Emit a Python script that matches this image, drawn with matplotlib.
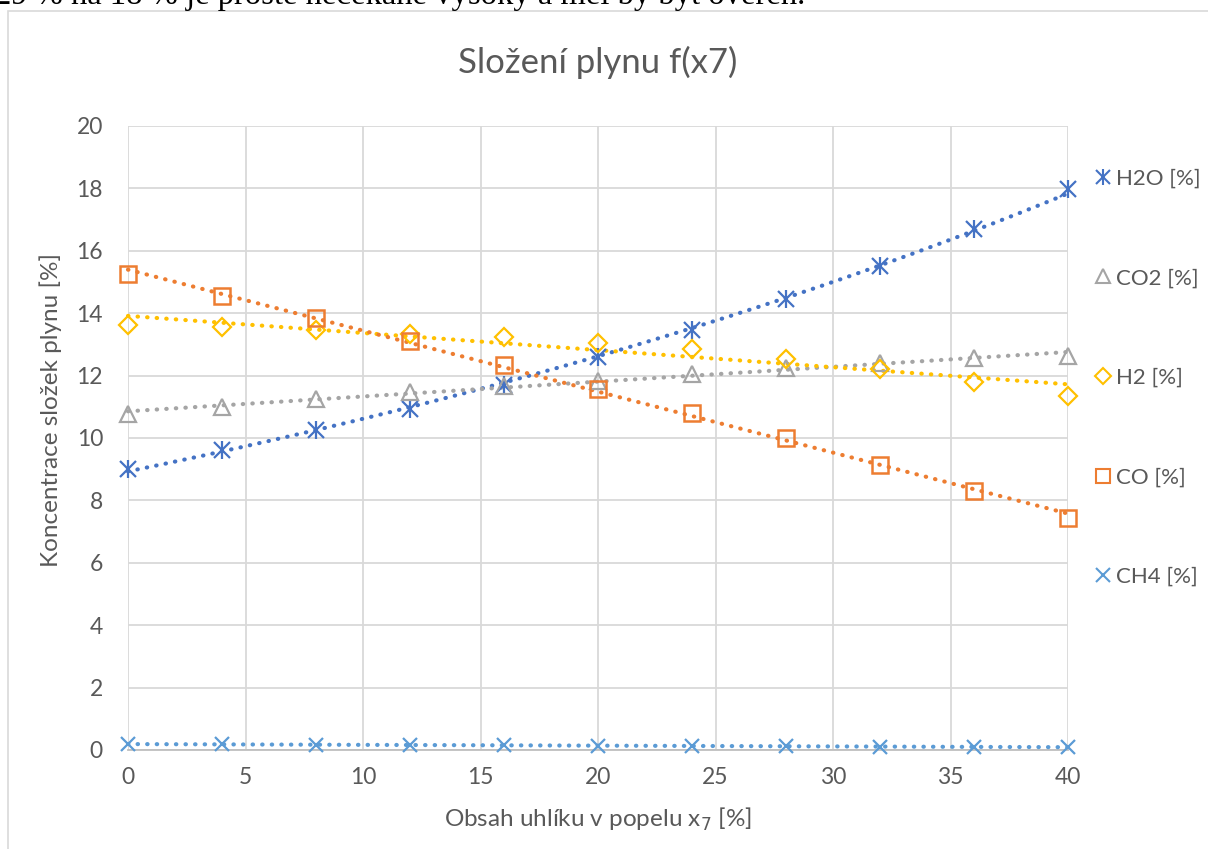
import numpy as np
import matplotlib
matplotlib.use('Agg')
import matplotlib.pyplot as plt
from matplotlib.patches import Rectangle
from matplotlib.lines import Line2D
from matplotlib.legend_handler import HandlerTuple

plt.rcParams['font.family'] = ['Lato', 'DejaVu Sans']

# Data
x7 = [0, 4, 8, 12, 16, 20, 24, 28, 32, 36, 40]
h2o = [9.0, 9.6, 10.26, 10.93, 11.7, 12.6, 13.46, 14.45, 15.5, 16.7, 17.98]
co2 = [10.77, 11.0, 11.25, 11.47, 11.67, 11.83, 12.05, 12.24, 12.4, 12.56, 12.63]
h2 = [13.62, 13.56, 13.46, 13.33, 13.24, 13.04, 12.85, 12.53, 12.21, 11.8, 11.35]
co = [15.26, 14.55, 13.85, 13.11, 12.34, 11.57, 10.8, 10.0, 9.13, 8.3, 7.44]
ch4 = [0.19, 0.18, 0.17, 0.16, 0.15, 0.14, 0.13, 0.12, 0.11, 0.1, 0.09]

labels = ['H2O [%]', 'CO2 [%]', 'H2 [%]', 'CO [%]', 'CH4 [%]']
colors = ['#4472C4', '#A5A5A5', '#FFC000', '#ED7D31', '#5B9BD5']
grey = '#595959'

fig = plt.figure(figsize=(12.08, 8.49), dpi=100)
ax = fig.add_axes([128/1208, 99/849, 940/1208, 624/849])

x = np.array(x7, dtype=float)
xs = np.linspace(0, 40, 200)

def trend(y, kind):
    y = np.array(y)
    if kind == 'exp':
        b, a = np.polyfit(x, np.log(y), 1)
        return np.exp(a + b * xs)
    k, q = np.polyfit(x, y, 1)
    return k * xs + q

# trendlines (dotted)
series = [h2o, co2, h2, co, ch4]
kinds = ['exp', 'lin', 'lin', 'lin', 'lin']
for y, c, kd in zip(series, colors, kinds):
    ax.plot(xs, trend(y, kd), linestyle=(0, (0.1, 2.2)), dash_capstyle='round',
            color=c, lw=3, zorder=3, clip_on=False)

# markers
kw = dict(linestyle='none', zorder=4, clip_on=False)
ax.plot(x, h2o, marker='x', ms=11, mew=1.6, color=colors[0], **kw)
ax.plot(x, h2o, marker='|', ms=13, mew=1.6, color=colors[0], **kw)
ax.plot(x, co2, marker='^', ms=11, mfc='none', mew=1.6, color=colors[1], **kw)
ax.plot(x, h2, marker='D', ms=9, mfc='none', mew=1.6, color=colors[2], **kw)
ax.plot(x, co, marker='s', ms=11, mfc='none', mew=1.8, color=colors[3], **kw)
ax.plot(x, ch4, marker='x', ms=10, mew=1.6, color=colors[4], **kw)

ax.set_xlim(0, 40)
ax.set_ylim(0, 20)
ax.set_xticks(range(0, 41, 5))
ax.set_yticks(range(0, 21, 2))
ax.grid(True, color='#d9d9d9', lw=1.3)
ax.set_axisbelow(True)
for s in ['top', 'right', 'left']:
    ax.spines[s].set_visible(False)
ax.spines['bottom'].set_color('#bfbfbf')
ax.spines['bottom'].set_linewidth(1.3)
ax.tick_params(length=0, labelsize=16.5, labelcolor=grey, pad=12)
ax.tick_params(axis='y', pad=18)

ax.set_title('Složení plynu f(x7)', fontsize=25, color=grey, pad=38)
ax.set_xlabel('Obsah uhlíku v popelu x$_7$ [%]', fontsize=17.5, color=grey, labelpad=13)
ax.set_ylabel('Koncentrace složek plynu [%]', fontsize=17.5, color=grey)
ax.yaxis.set_label_coords(-0.070, 0.545)

# legend on the right
ms = dict(linestyle='none', mew=1.5)
handles = [
    (Line2D([], [], marker='x', ms=10, color=colors[0], **ms),
     Line2D([], [], marker='|', ms=12, color=colors[0], **ms)),
    Line2D([], [], marker='^', ms=10, mfc='none', color=colors[1], **ms),
    Line2D([], [], marker='D', ms=8, mfc='none', color=colors[2], **ms),
    Line2D([], [], marker='s', ms=10, mfc='none', color=colors[3], **ms),
    Line2D([], [], marker='x', ms=10, color=colors[4], **ms),
]
leg = fig.legend(handles, labels, loc='upper left', bbox_to_anchor=(1090/1208, 1 - 162/849),
                 frameon=False, fontsize=16, labelspacing=3.58, handlelength=0.6,
                 handletextpad=0.25, labelcolor=grey, borderaxespad=0, borderpad=0.3,
                 handler_map={tuple: HandlerTuple(ndivide=1, pad=0)})

# chart frame and cut text from the page above
fig.patches.append(Rectangle((8/1208, -0.01), 1.02, 1 - 11/849 + 0.01,
                             transform=fig.transFigure, fill=False,
                             edgecolor='#d9d9d9', lw=1.2))
fig.text(-0.004, 1 - 4/849, '29 % na 18 % je prostě nečekaně vysoký a měl by být ověřen.',
         family='Liberation Serif', fontsize=23.5, va='baseline', ha='left', color='black')

fig.savefig('out.png', dpi=100)
